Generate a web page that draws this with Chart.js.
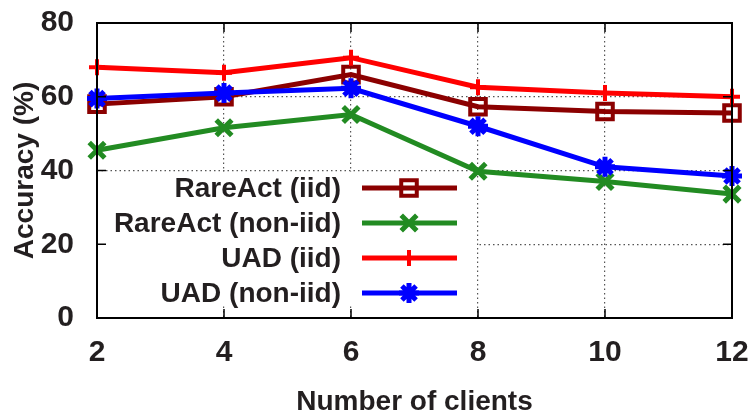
<!DOCTYPE html>
<html>
<head>
<meta charset="utf-8">
<script src="https://cdn.jsdelivr.net/npm/chart.js@4.4.1/dist/chart.umd.min.js"></script>
<style>
  html, body { margin: 0; padding: 0; background: #fff; }
  #wrap { width: 751px; height: 415px; }
</style>
</head>
<body>
<div id="wrap"><canvas id="myChart" width="751" height="415"></canvas></div>
<script>
// x axis labels
var clients = ['2', '4', '6', '8', '10', '12'];
// accuracy values (%)
var rareActIid = [58, 60, 66, 57.3, 56, 55.6];
var rareActNonIid = [45.5, 51.6, 55.2, 39.8, 37, 33.6];
var uadIid = [68, 66.5, 70.6, 62.6, 61, 60];
var uadNonIid = [59.5, 61, 62.3, 52, 41, 38.5];
var yTicks = [0, 20, 40, 60, 80];

var textColor = '#231f20';
var fontName = "'Liberation Sans', Arial, sans-serif";

// legend drawn inside the plot, gnuplot style
var keyPlugin = {
  id: 'key',
  beforeDatasetsDraw: function (chart) {
    var c = chart.ctx;
    c.save();
    c.fillStyle = '#fff';
    c.fillRect(98, 172, 379, 134);
    c.restore();
  },
  afterDatasetsDraw: function (chart) {
    var c = chart.ctx;
    c.save();
    c.font = 'bold 28px ' + fontName;
    c.textAlign = 'right';
    c.textBaseline = 'middle';
    chart.data.datasets.forEach(function (ds, i) {
      var y = 188 + i * 35;
      c.fillStyle = textColor;
      c.fillText(ds.label, 341, y + 1);
      c.strokeStyle = ds.borderColor;
      c.lineWidth = 5;
      c.beginPath();
      c.moveTo(362, y);
      c.lineTo(457, y);
      c.stroke();
      c.fillStyle = ds.pointBackgroundColor;
      c.strokeStyle = ds.borderColor;
      c.lineWidth = ds.pointBorderWidth;
      Chart.helpers.drawPoint(c, {
        pointStyle: ds.pointStyle,
        radius: ds.pointRadius,
        borderWidth: ds.pointBorderWidth,
        rotation: 0
      }, 409, y);
    });
    c.restore();
  },
  afterDraw: function (chart) {
    var c = chart.ctx;
    var a = chart.chartArea;
    var xs = chart.scales.x, ys = chart.scales.y;
    c.save();
    c.strokeStyle = '#000';
    c.lineWidth = 2;
    c.strokeRect(a.left, a.top, a.right - a.left, a.bottom - a.top);
    c.lineWidth = 1.5;
    c.beginPath();
    yTicks.forEach(function (v) {
      var y = ys.getPixelForValue(v);
      c.moveTo(a.left, y); c.lineTo(a.left + 9, y);
      c.moveTo(a.right, y); c.lineTo(a.right - 9, y);
    });
    clients.forEach(function (l, i) {
      var x = xs.getPixelForValue(i);
      c.moveTo(x, a.bottom); c.lineTo(x, a.bottom - 9);
      c.moveTo(x, a.top); c.lineTo(x, a.top + 9);
    });
    c.stroke();
    c.restore();
  }
};

var ctx = document.getElementById('myChart');
var myChart = new Chart(ctx, {
  type: 'line',
  data: {
    labels: clients,
    datasets: [
      {
        label: 'RareAct (iid)',
        data: rareActIid,
        borderColor: '#8b0000',
        pointBackgroundColor: 'rgba(0,0,0,0)',
        pointStyle: 'rect',
        pointRadius: 11,
        pointBorderWidth: 4,
        order: 3
      },
      {
        label: 'RareAct (non-iid)',
        data: rareActNonIid,
        borderColor: '#228b22',
        pointBackgroundColor: '#228b22',
        pointStyle: 'crossRot',
        pointRadius: 11,
        pointBorderWidth: 5,
        order: 2
      },
      {
        label: 'UAD (iid)',
        data: uadIid,
        borderColor: '#ff0000',
        pointBackgroundColor: '#ff0000',
        pointStyle: 'cross',
        pointRadius: 8,
        pointBorderWidth: 4,
        order: 1
      },
      {
        label: 'UAD (non-iid)',
        data: uadNonIid,
        borderColor: '#0000ff',
        pointBackgroundColor: '#0000ff',
        pointStyle: 'star',
        pointRadius: 10,
        pointBorderWidth: 5,
        order: 0
      }
    ].map(function (d) {
      d.borderWidth = 5;
      d.fill = false;
      d.tension = 0;
      d.clip = false;
      d.pointBorderColor = d.borderColor;
      d.pointHoverRadius = d.pointRadius;
      return d;
    })
  },
  options: {
    responsive: false,
    animation: false,
    events: [],
    layout: { padding: { top: 23, right: 19, left: 0, bottom: 0 } },
    plugins: {
      legend: { display: false },
      tooltip: { enabled: false }
    },
    scales: {
      x: {
        offset: false,
        grid: { color: '#555', lineWidth: 1.2, drawTicks: true, tickLength: 17, tickColor: 'rgba(0,0,0,0)' },
        border: { display: false, dash: [1.5, 3] },
        ticks: { color: textColor, font: { family: fontName, size: 30, weight: 'bold' }, padding: 0, maxRotation: 0 },
        title: {
          display: true, text: 'Number of clients', color: textColor,
          font: { family: fontName, size: 28, weight: 'bold', lineHeight: 1 },
          padding: { top: 0, bottom: -1 }
        },
        afterFit: function (s) { s.height = 97; }
      },
      y: {
        min: 0, max: 80,
        ticks: { stepSize: 20, color: textColor, font: { family: fontName, size: 30, weight: 'bold' }, padding: 0 },
        grid: { color: '#555', lineWidth: 1.2, drawTicks: true, tickLength: 23, tickColor: 'rgba(0,0,0,0)' },
        border: { display: false, dash: [1.5, 3] },
        title: {
          display: true, text: 'Accuracy (%)', color: textColor,
          font: { family: fontName, size: 28, weight: 'bold', lineHeight: 1 },
          padding: { top: 11, bottom: 0 }
        },
        afterFit: function (s) { s.width = 97; }
      }
    }
  },
  plugins: [keyPlugin]
});
</script>
</body>
</html>
